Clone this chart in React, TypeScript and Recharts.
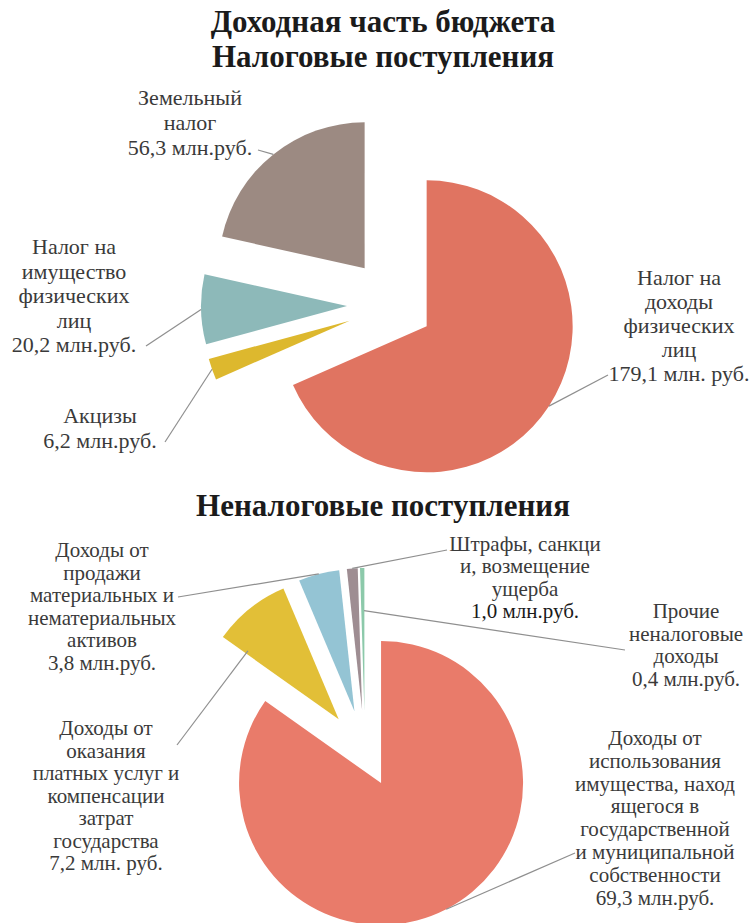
import { PieChart, Pie, Sector } from "recharts";

// налоговые поступления (по часовой стрелке от 12 часов)
const taxNames = ["Налог на доходы физических лиц", "Акцизы", "Налог на имущество физических лиц", "Земельный налог"];
const taxValues = [179.1, 6.2, 20.2, 56.3];
const taxColors = ["#E07461", "#DDB82E", "#8DB9B9", "#9C8A82"];
const taxLabels = [
  ["Налог на", "доходы", "физических", "лиц", "179,1 млн. руб."],
  ["Акцизы", "6,2 млн.руб."],
  ["Налог на", "имущество", "физических", "лиц", "20,2 млн.руб."],
  ["Земельный", "налог", "56,3 млн.руб."],
];

// неналоговые поступления
const nonTaxNames = [
  "Доходы от использования имущества",
  "Доходы от оказания платных услуг",
  "Доходы от продажи активов",
  "Штрафы, санкции",
  "Прочие неналоговые доходы",
];
const nonTaxValues = [69.3, 7.2, 3.8, 1.0, 0.4];
const nonTaxColors = ["#E97B6A", "#E2BF37", "#94C4D4", "#9E8D92", "#8CC9AA"];
const nonTaxLabels = [
  ["Доходы от", "использования", "имущества, наход", "ящегося в", "государственной", "и муниципальной", "собственности", "69,3 млн.руб."],
  ["Доходы от", "оказания", "платных услуг и", "компенсации", "затрат", "государства", "7,2 млн. руб."],
  ["Доходы от", "продажи", "материальных и", "нематериальных", "активов", "3,8 млн.руб."],
  ["Штрафы, санкци", "и, возмещение", "ущерба", "1,0 млн.руб."],
  ["Прочие", "неналоговые", "доходы", "0,4 млн.руб."],
];

const taxData = taxNames.map((name, i) => ({ name, value: taxValues[i] }));
const nonTaxData = nonTaxNames.map((name, i) => ({ name, value: nonTaxValues[i] }));

// layout of labels: text center x, first line y, line height, leader start, leader target (share of angle, share of radius)
type Box = { x: number; y: number; lh: number; lx: number; ly: number; f: number; k: number; strong?: boolean };
const taxExplode = [39, 47, 47, 47];
const taxBoxes: Box[] = [
  { x: 679, y: 277, lh: 24, lx: 608, ly: 375, f: 0.5, k: 1 },
  { x: 100, y: 415, lh: 25, lx: 165, ly: 442, f: 0.5, k: 1 },
  { x: 74, y: 246, lh: 24.5, lx: 146, ly: 346, f: 0.5, k: 1 },
  { x: 190, y: 97, lh: 25, lx: 258, ly: 150, f: 0.5, k: 1 },
];
const nonTaxExplode = [35, 42, 42, 42, 42];
const nonTaxBoxes: Box[] = [
  { x: 655, y: 738, lh: 22.8, lx: 575, ly: 853, f: 0.5, k: 1 },
  { x: 106, y: 728, lh: 22.5, lx: 177, ly: 745, f: 0.05, k: 0.8 },
  { x: 102, y: 550, lh: 22.5, lx: 178, ly: 597, f: 0.5, k: 1 },
  { x: 525, y: 544, lh: 22.3, lx: 447, ly: 550, f: 0.5, k: 1, strong: true },
  { x: 686, y: 611, lh: 22.5, lx: 625, ly: 650, f: 0.9, k: 0.7 },
];

const RADIAN = Math.PI / 180;
const polar = (cx: number, cy: number, r: number, angle: number) => ({
  x: cx + r * Math.cos(-angle * RADIAN),
  y: cy + r * Math.sin(-angle * RADIAN),
});

const FONT = '"Liberation Serif", "DejaVu Serif", serif';

function makeSlice(colors: string[], explode: number[], labels: string[][], boxes: Box[], fontSize: number) {
  return (props: any) => {
    const { cx, cy, startAngle, endAngle, midAngle, outerRadius, index } = props;
    const c = polar(cx, cy, explode[index], midAngle);
    const box = boxes[index];
    const tip = polar(c.x, c.y, outerRadius * box.k, startAngle + (endAngle - startAngle) * box.f);
    const lines = labels[index];
    return (
      <g key={`slice-${index}`}>
        <Sector
          cx={c.x}
          cy={c.y}
          innerRadius={0}
          outerRadius={outerRadius}
          startAngle={startAngle}
          endAngle={endAngle}
          fill={colors[index]}
          stroke="none"
        />
        <line x1={box.lx} y1={box.ly} x2={tip.x} y2={tip.y} stroke="#8f8f8f" strokeWidth={1.2} />
        <text
          style={{ fontFamily: FONT, fontSize }}
          fill="#3a3a3a"
          textAnchor="middle"
          dominantBaseline="central"
        >
          {lines.map((line, i) => {
            const dark = box.strong && i === lines.length - 1;
            return (
              <tspan key={i} x={box.x} y={box.y + i * box.lh} fill={dark ? "#1a1a1a" : undefined}>
                {line}
              </tspan>
            );
          })}
        </text>
      </g>
    );
  };
}

const titleStyle: React.CSSProperties = {
  position: "absolute",
  left: 0,
  width: 766,
  textAlign: "center",
  fontFamily: FONT,
  fontWeight: 700,
  fontSize: 31,
  lineHeight: "35px",
  color: "#1b1b1b",
  whiteSpace: "nowrap",
};

export default function App() {
  return (
    <div style={{ position: "absolute", left: 0, top: 0, width: 750, height: 923, background: "#fff" }}>
      <PieChart width={750} height={923} margin={{ top: 0, right: 0, bottom: 0, left: 0 }}>
        <Pie
          data={taxData}
          dataKey="value"
          nameKey="name"
          cx={394}
          cy={305}
          outerRadius={146}
          startAngle={90}
          endAngle={-270}
          fill="transparent"
          stroke="none"
          labelLine={false}
          label={makeSlice(taxColors, taxExplode, taxLabels, taxBoxes, 22)}
          isAnimationActive={false}
        />
        <Pie
          data={nonTaxData}
          dataKey="value"
          nameKey="name"
          cx={365}
          cy={752}
          outerRadius={142}
          startAngle={90}
          endAngle={-270}
          fill="transparent"
          stroke="none"
          labelLine={false}
          label={makeSlice(nonTaxColors, nonTaxExplode, nonTaxLabels, nonTaxBoxes, 21)}
          isAnimationActive={false}
        />
      </PieChart>
      <div style={{ ...titleStyle, top: 4 }}>
        Доходная часть бюджета
        <br />
        Налоговые поступления
      </div>
      <div style={{ ...titleStyle, top: 488 }}>Неналоговые поступления</div>
    </div>
  );
}
